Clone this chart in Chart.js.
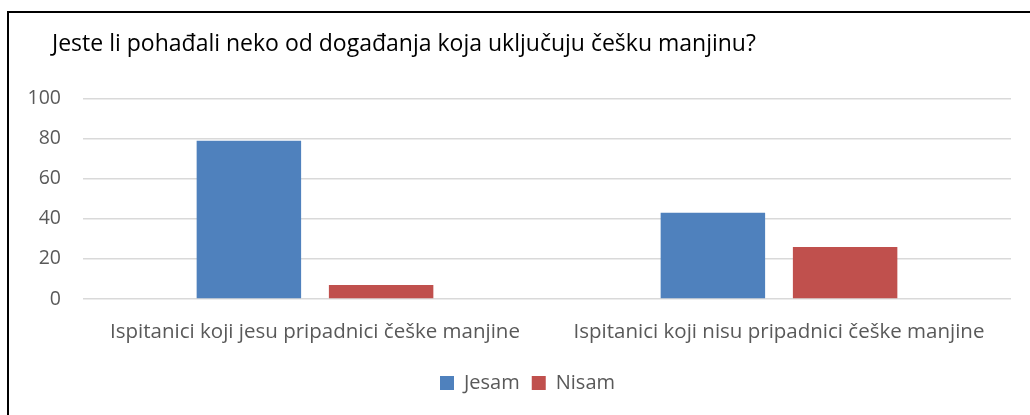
<!DOCTYPE html>
<html>
<head>
<meta charset="utf-8">
<script src="https://cdn.jsdelivr.net/npm/chart.js@4"></script>
<style>
    html, body { margin: 0; padding: 0; background: #fff; overflow: hidden; }
    #wrap { position: relative; width: 1030px; height: 415px; overflow: hidden; }
    #frame { position: absolute; left: 7px; top: 11px; width: 1100px; height: 500px; border: 2px solid #000; box-sizing: border-box; }
    #chart { position: absolute; left: 0; top: 0; }
</style>
</head>
<body>
<div id="wrap">
    <div id="frame"></div>
    <canvas id="chart" width="1030" height="415"></canvas>
</div>
<script>
const categories = [
    'Ispitanici koji jesu pripadnici češke manjine',
    'Ispitanici koji nisu pripadnici češke manjine'
];
const jesam = [79, 43];
const nisam = [7, 26];
const yTicks = [0, 20, 40, 60, 80, 100];

const fontFamily = '"Open Sans", Lato, sans-serif';
const grey = '#595959';

// title and legend sit a bit off the default spots, nudge them after layout
const nudge = {
    id: 'nudge',
    afterLayout(chart) {
        chart.titleBlock.left += 32;
        chart.titleBlock.right += 32;
        chart.legend.left += 12;
        chart.legend.right += 12;
    }
};

function drawChart() {
    const ctx = document.getElementById('chart').getContext('2d');
    new Chart(ctx, {
        type: 'bar',
        data: {
            labels: categories,
            datasets: [
                { label: 'Jesam', data: jesam, backgroundColor: '#4f81bd' },
                { label: 'Nisam', data: nisam, backgroundColor: '#c0504d' }
            ]
        },
        options: {
            responsive: false,
            animation: false,
            categoryPercentage: 0.57,
            barPercentage: 0.79,
            layout: {
                padding: { left: 20, right: 19, top: 0, bottom: 12 }
            },
            plugins: {
                title: {
                    display: true,
                    text: 'Jeste li pohađali neko od događanja koja uključuju češku manjinu?',
                    align: 'start',
                    color: '#000',
                    font: { family: fontFamily, size: 23, weight: 'normal' },
                    padding: { top: 31, bottom: 40 }
                },
                legend: {
                    position: 'bottom',
                    labels: {
                        color: grey,
                        font: { family: fontFamily, size: 20 },
                        boxWidth: 14,
                        boxHeight: 14,
                        padding: 12
                    }
                },
                tooltip: { enabled: false }
            },
            scales: {
                x: {
                    grid: { display: false },
                    border: { display: false },
                    ticks: {
                        color: grey,
                        font: { family: fontFamily, size: 20.5 },
                        padding: 13,
                        maxRotation: 0
                    },
                    afterFit: (scale) => { scale.height = 62; }
                },
                y: {
                    min: 0,
                    max: 100,
                    border: { display: false },
                    grid: { color: '#d9d9d9', lineWidth: 1.5, drawTicks: false },
                    ticks: {
                        color: grey,
                        font: { family: fontFamily, size: 19.5 },
                        padding: 22,
                        stepSize: 20,
                        callback: (v) => yTicks.includes(v) ? v : null
                    },
                    afterFit: (scale) => { scale.width = 63; }
                }
            }
        },
        plugins: [nudge]
    });
}

document.addEventListener('DOMContentLoaded', () => {
    drawChart();
});
</script>
</body>
</html>
